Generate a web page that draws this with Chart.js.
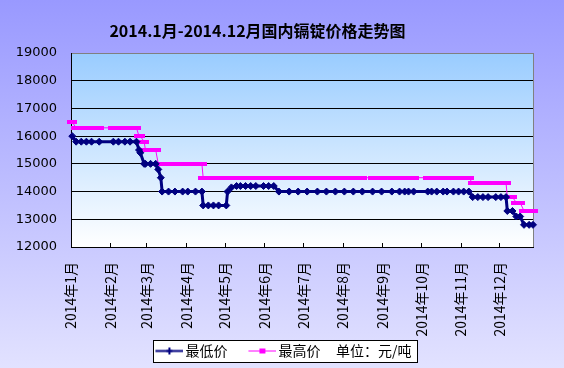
<!DOCTYPE html>
<html><head><meta charset="utf-8">
<script src="https://cdn.jsdelivr.net/npm/chart.js@4.4.1/dist/chart.umd.min.js"></script>
<style>
html,body{margin:0;padding:0;background:#fff;}
#wrap{position:relative;width:564px;height:368px;overflow:hidden;}
#title{position:absolute;left:0;top:20px;width:515px;text-align:center;font-family:"Noto Sans CJK SC";font-weight:bold;font-size:16px;line-height:20px;color:#000;white-space:nowrap;}
canvas{display:block;}
</style></head><body>
<div id="wrap"><canvas id="c" width="564" height="368"></canvas><div id="title">2014.1月-2014.12月国内镉锭价格走势图</div></div>
<script>
// ---- data ----
const dates = [
 '2014-01-02','2014-01-05','2014-01-09','2014-01-13','2014-01-17','2014-01-23',
 '2014-02-03','2014-02-07','2014-02-12','2014-02-16','2014-02-21','2014-02-23','2014-02-24','2014-02-27','2014-02-28',
 '2014-03-04','2014-03-08','2014-03-10','2014-03-12','2014-03-13','2014-03-18','2014-03-23','2014-03-29',
 '2014-04-02','2014-04-08','2014-04-13','2014-04-14','2014-04-18','2014-04-22','2014-04-26',
 '2014-05-02','2014-05-03','2014-05-06','2014-05-10','2014-05-13','2014-05-17','2014-05-21','2014-05-25','2014-05-31',
 '2014-06-04','2014-06-08','2014-06-12','2014-06-20','2014-06-27',
 '2014-07-04','2014-07-12','2014-07-19','2014-07-26',
 '2014-08-02','2014-08-09','2014-08-16','2014-08-24','2014-08-31',
 '2014-09-08','2014-09-14','2014-09-18','2014-09-21','2014-09-25',
 '2014-10-06','2014-10-09','2014-10-13','2014-10-18','2014-10-21','2014-10-26','2014-10-30',
 '2014-11-03','2014-11-07','2014-11-10','2014-11-14','2014-11-18','2014-11-22','2014-11-28',
 '2014-12-02','2014-12-06','2014-12-07','2014-12-11','2014-12-14','2014-12-17','2014-12-20','2014-12-24','2014-12-27'
];
const lowPrices = [
 16000,15800,15800,15800,15800,15800,
 15800,15800,15800,15800,15800,15500,15400,15000,15000,
 15000,15000,14800,14500,14000,14000,14000,14000,
 14000,14000,14000,13500,13500,13500,13500,
 13500,14000,14150,14200,14200,14200,14200,14200,14200,
 14200,14200,14000,14000,14000,
 14000,14000,14000,14000,
 14000,14000,14000,14000,14000,
 14000,14000,14000,14000,14000,
 14000,14000,14000,14000,14000,14000,14000,
 14000,14000,13800,13800,13800,13800,13800,
 13800,13800,13300,13300,13100,13100,12800,12800,12800
];
const highPrices = [
 16500,16300,16300,16300,16300,16300,
 16300,16300,16300,16300,16300,16000,16000,15800,15500,
 15500,15500,15000,15000,15000,15000,15000,15000,
 15000,15000,15000,14500,14500,14500,14500,
 14500,14500,14500,14500,14500,14500,14500,14500,14500,
 14500,14500,14500,14500,14500,
 14500,14500,14500,14500,
 14500,14500,14500,14500,14500,
 14500,14500,14500,14500,14500,
 14500,14500,14500,14500,14500,14500,14500,
 14500,14500,14300,14300,14300,14300,14300,
 14300,14300,13800,13800,13600,13600,13300,13300,13300
];
const seriesNames = ['最低价', '最高价     单位：元/吨'];
const monthDates = ['2014-01-01','2014-02-01','2014-03-01','2014-04-01','2014-05-01','2014-06-01',
 '2014-07-01','2014-08-01','2014-09-01','2014-10-01','2014-11-01','2014-12-01'];
const monthLabels = ['2014年1月','2014年2月','2014年3月','2014年4月','2014年5月','2014年6月',
 '2014年7月','2014年8月','2014年9月','2014年10月','2014年11月','2014年12月'];
const yMin = 12000, yMax = 19000, yStep = 1000;

// ---- helpers ----
function dayOf(s){ const p = s.split('-').map(Number); return (Date.UTC(p[0],p[1]-1,p[2]) - Date.UTC(2014,0,1)) / 86400000; }
const monthDays = monthDates.map(dayOf);

// legend symbol: transparent lead-in (8px) then a 28px line with a marker
function makeIcon(color, lineW, marker){
  const c = document.createElement('canvas'); c.width = 36; c.height = 9;
  const g = c.getContext('2d');
  g.strokeStyle = color; g.lineWidth = lineW;
  g.beginPath(); g.moveTo(8, 4.5); g.lineTo(36, 4.5); g.stroke();
  g.fillStyle = color;
  if (marker === 'square') g.fillRect(19, 2, 6, 5);
  else { g.fillRect(21, 1, 2, 7); g.fillRect(19, 3.5, 6, 2); }
  return c;
}
const legendIcons = [makeIcon('#000080', 2, 'plus'), makeIcon('#ff00ff', 1, 'square')];
const highMarker = (function(){ const c = document.createElement('canvas'); c.width = 10; c.height = 4;
  const g = c.getContext('2d'); g.fillStyle = '#ff00ff'; g.fillRect(0,0,10,4); return c; })();

const LEGEND_PAD = 18, LEGEND_ROW_TOP = 344;
const bgPlugin = {
  id: 'bgPlugin',
  afterLayout(chart){
    const lg = chart.legend;
    if (lg){ lg.top = LEGEND_ROW_TOP - LEGEND_PAD; lg.bottom = chart.height; }
  },
  beforeDraw(chart){
    const {ctx, chartArea: a, width, height} = chart;
    ctx.save();
    let g = ctx.createLinearGradient(0, 0, 0, height);
    g.addColorStop(0, '#9999ff'); g.addColorStop(1, '#e2e2ff');
    ctx.fillStyle = g; ctx.fillRect(0, 0, width, height);
    g = ctx.createLinearGradient(0, a.top, 0, a.bottom);
    g.addColorStop(0, '#99ccff'); g.addColorStop(1, '#ffffff');
    ctx.fillStyle = g; ctx.fillRect(a.left, a.top, a.right - a.left, a.bottom - a.top);
    const lg = chart.legend;
    if (lg && lg.legendHitBoxes && lg.legendHitBoxes.length){
      let l = Infinity, r = -Infinity, t = Infinity, b = -Infinity;
      for (const h of lg.legendHitBoxes){ l = Math.min(l, h.left); r = Math.max(r, h.left + h.width); t = Math.min(t, h.top); b = Math.max(b, h.top + h.height); }
      const x0 = Math.round(l + 1) + 0.5, y0 = Math.round(t - 4) + 0.5, x1 = Math.round(r + 5) + 0.5, y1 = Math.round(b + 4) + 0.5;
      ctx.fillStyle = '#ffffff'; ctx.fillRect(x0, y0, x1 - x0, y1 - y0);
      ctx.strokeStyle = '#000000'; ctx.lineWidth = 1; ctx.strokeRect(x0, y0, x1 - x0, y1 - y0);
    }
    ctx.restore();
  },
  beforeDatasetsDraw(chart){
    const {ctx, chartArea: a} = chart;
    ctx.save(); ctx.strokeStyle = '#808080'; ctx.lineWidth = 1;
    const x = Math.round(a.right) + 0.5;
    ctx.beginPath(); ctx.moveTo(x, a.top); ctx.lineTo(x, a.bottom); ctx.stroke();
    ctx.restore();
  }
};

const BOTTOM = 247, PAD_BOTTOM = 1;
new Chart(document.getElementById('c'), {
  type: 'line',
  data: {
    datasets: [
      { label: seriesNames[0], data: dates.map((d,i) => ({x: dayOf(d), y: lowPrices[i]})),
        borderColor: '#000080', backgroundColor: '#000080', borderWidth: 3, tension: 0,
        pointStyle: 'rectRot', pointRadius: 3.5, pointBorderWidth: 1,
        pointBackgroundColor: '#000080', pointBorderColor: '#000080', clip: false },
      { label: seriesNames[1], data: dates.map((d,i) => ({x: dayOf(d), y: highPrices[i]})),
        borderColor: '#ff00ff', backgroundColor: '#ff00ff', borderWidth: 1, tension: 0,
        pointStyle: highMarker, pointRadius: 3, clip: false }
    ]
  },
  options: {
    responsive: false, animation: false, events: [],
    layout: { padding: { top: 53, left: 0, right: 0, bottom: PAD_BOTTOM } },
    plugins: {
      title: { display: false },
      tooltip: { enabled: false },
      legend: {
        display: true, position: 'bottom', maxHeight: 30,
        labels: {
          color: '#000', font: { family: 'Noto Sans CJK SC', size: 14 },
          usePointStyle: true, pointStyleWidth: 26, padding: LEGEND_PAD,
          generateLabels(chart){
            const items = Chart.defaults.plugins.legend.labels.generateLabels(chart);
            items.forEach((it, i) => { it.pointStyle = legendIcons[i]; });
            return items;
          }
        }
      }
    },
    scales: {
      x: {
        type: 'linear', position: 'bottom',
        min: 0, max: dayOf(dates[dates.length - 1]),
        afterBuildTicks(s){ s.ticks = monthDays.map(v => ({value: v})); },
        afterFit(s){ s.height = s.chart.height - BOTTOM - PAD_BOTTOM - (s.chart.legend ? s.chart.legend.height : 0); },
        grid: { display: true, drawOnChartArea: false, drawTicks: true, tickLength: -4, color: '#000' },
        border: { display: true, color: '#000', width: 1 },
        ticks: {
          autoSkip: false, minRotation: 90, maxRotation: 90, padding: 19, color: '#000',
          font: { family: 'Noto Sans CJK SC', size: 14 },
          callback(v){ const i = monthDays.indexOf(v); return i >= 0 ? monthLabels[i] : ''; }
        }
      },
      y: {
        min: yMin, max: yMax,
        afterFit(s){ s.width = 71; },
        grid: { display: true, drawTicks: false, color: c => (c.tick && c.tick.value === yMax) ? '#808080' : '#000000' },
        border: { display: true, color: '#000', width: 1 },
        ticks: { stepSize: yStep, padding: 14, color: '#000', font: { family: 'DejaVu Sans', size: 13 },
          callback(v){ return String(v); } }
      },
      yR: {
        position: 'right', display: true,
        afterFit(s){ s.width = 31; },
        grid: { display: false, drawTicks: false },
        border: { display: false },
        ticks: { display: false }
      }
    }
  },
  plugins: [bgPlugin]
});
</script>
</body></html>
